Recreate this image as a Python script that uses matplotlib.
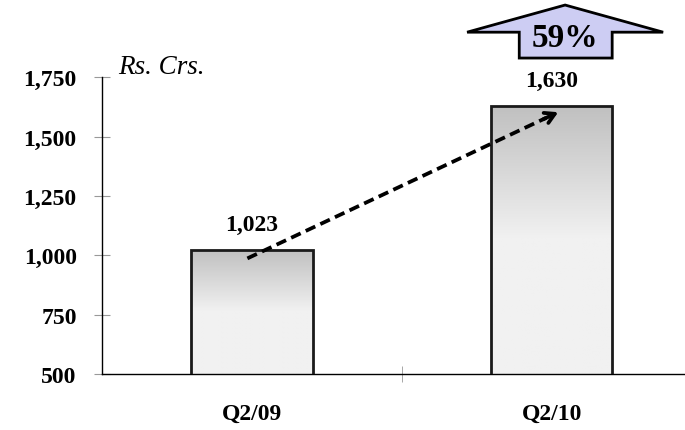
import numpy as np
import matplotlib
matplotlib.use('Agg')
import matplotlib.pyplot as plt
from matplotlib.patches import Polygon
from matplotlib.transforms import blended_transform_factory

# revenue by quarter, Rs. crores
quarters = ['Q2/09', 'Q2/10']
revenue = [1023, 1630]
y_ticks = [500, 750, 1000, 1250, 1500, 1750]

serif = ['Liberation Serif', 'DejaVu Serif']
plt.rcParams['font.family'] = serif
fsize = 17

fig = plt.figure(figsize=(6.85, 4.31), dpi=100)
ax = fig.add_axes([102 / 685, 1 - 375 / 431, 599.5 / 685, 296.7 / 431])

x = np.arange(len(quarters))
bars = ax.bar(x, revenue, width=0.405, bottom=0, color='none',
              edgecolor='#1a1a1a', linewidth=2, zorder=3)

# grey gradient: darker at top, fading to light grey halfway down
grad = np.concatenate([np.linspace(0.75, 0.945, 50), np.full(50, 0.945)])
grad_img = np.repeat(grad[:, None], 2, axis=1)
for b in bars:
    x0, w, h = b.get_x(), b.get_width(), b.get_height()
    im = ax.imshow(grad_img, cmap='gray', vmin=0, vmax=1, aspect='auto',
                   extent=[x0, x0 + w, 500, h], zorder=2, interpolation='bilinear')
    im.set_clip_path(b)

ax.set_xlim(-0.5, 1.5)
ax.set_ylim(500, 1750)

for side in ['top', 'right']:
    ax.spines[side].set_visible(False)
for side in ['left', 'bottom']:
    ax.spines[side].set_color('black')
    ax.spines[side].set_linewidth(1)

ax.set_yticks(y_ticks)
ax.set_yticklabels([f'{v:,}' for v in y_ticks], fontsize=fsize, fontweight='bold')
ax.tick_params(axis='y', direction='inout', length=11.5, color='#999999', pad=12.5)

ax.set_xticks(x)
ax.set_xticklabels(quarters, fontsize=fsize, fontweight='bold')
ax.tick_params(axis='x', which='major', length=0, pad=21)
ax.set_xticks([0.5], minor=True)
ax.tick_params(axis='x', which='minor', direction='inout', length=11, color='#999999')

for xi, v in zip(x, revenue):
    ax.annotate(f'{v:,}', (xi, v), xytext=(0, 14), textcoords='offset points',
                ha='center', va='baseline', fontsize=fsize, fontweight='bold')

# dashed growth arrow between the two bars
sx, sy = x[0] - 0.015, revenue[0] - 36
ex, ey = x[1] + 0.022, revenue[1] - 27
slope = (ey - sy) / (ex - sx)
ax.plot([sx, ex - 0.04], [sy, ey - 0.04 * slope],
        ls=(0, (2.8, 1.5)), color='black', lw=2.7, zorder=4)
ax.annotate('', xy=(ex, ey), xytext=(ex - 0.05, ey - 0.05 * slope),
            arrowprops=dict(arrowstyle='->,head_length=0.7,head_width=0.4',
                            color='black', lw=2.7, shrinkA=0, shrinkB=0), zorder=4)

fig.text(118 / 685, 1 - 74 / 431, 'Rs. Crs.', fontsize=19.5, fontstyle='italic',
         ha='left', va='baseline')

# growth call-out block arrow above the second bar
growth = (revenue[1] - revenue[0]) / revenue[0] * 100
tr = blended_transform_factory(ax.transData, fig.transFigure)
cx = x[1] + 0.045
shape = [(cx, 0.986), (cx + 0.327, 0.923), (cx + 0.157, 0.923), (cx + 0.157, 0.863),
         (cx - 0.153, 0.863), (cx - 0.153, 0.923), (cx - 0.327, 0.923)]
ax.add_patch(Polygon(shape, closed=True, transform=tr, facecolor='#cdcdf3',
                     edgecolor='black', linewidth=2, clip_on=False, zorder=5))
ax.text(cx, 1 - 47 / 431, f'{growth:.0f}%', transform=tr, ha='center', va='baseline',
        fontsize=24, fontweight='bold', zorder=6)

fig.savefig('out.png', dpi=100)
